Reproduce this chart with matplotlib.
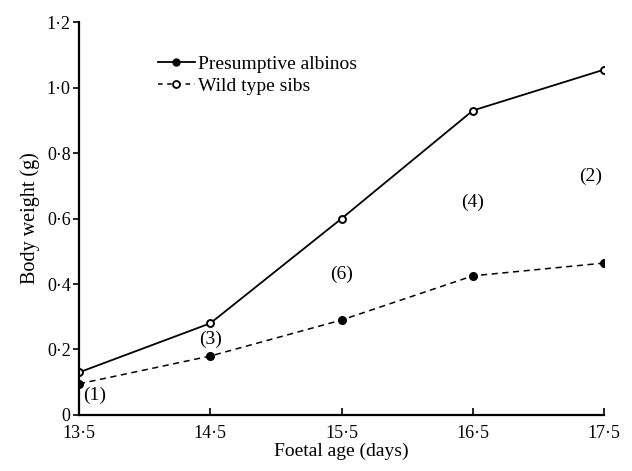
import matplotlib.pyplot as plt
from matplotlib.lines import Line2D

# foetal age (days)
ages = [13.5, 14.5, 15.5, 16.5, 17.5]
# open circles, solid line
wild_type = [0.13, 0.28, 0.60, 0.93, 1.055]
# filled circles, dashed line
albinos = [0.095, 0.18, 0.29, 0.425, 0.464]
# litter counts and where they sit
counts = ["(1)", "(3)", "(6)", "(4)", "(2)"]
count_x = [13.62, 14.5, 15.5, 16.5, 17.4]
count_y = [0.06, 0.23, 0.43, 0.65, 0.73]
tick_labels_x = ["13·5", "14·5", "15·5", "16·5", "17·5"]
yticks = [0, 0.2, 0.4, 0.6, 0.8, 1.0, 1.2]
tick_labels_y = ["0", "0·2", "0·4", "0·6", "0·8", "1·0", "1·2"]

plt.rcParams['font.family'] = ['Liberation Serif', 'DejaVu Serif']

fig = plt.figure(figsize=(6.32, 4.71), dpi=100)
ax = fig.add_axes([0.125, 0.119, 0.831, 0.834])

ax.plot(ages, wild_type, '-', color='black', lw=1.3, marker='o',
        ms=5, mfc='white', mec='black', mew=1.4)
ax.plot(ages, albinos, '--', color='black', lw=1.1, dashes=(4, 3), marker='o',
        ms=5.5, mfc='black', mec='black')

for t, x, y in zip(counts, count_x, count_y):
    ax.text(x, y, t, ha='center', va='center', fontsize=14)

ax.set_xlim(13.5, 17.5)
ax.set_ylim(0, 1.2)
ax.set_xticks(ages)
ax.set_xticklabels(tick_labels_x, fontsize=13)
ax.set_yticks(yticks)
ax.set_yticklabels(tick_labels_y, fontsize=13)
ax.tick_params(axis='x', direction='in', length=5, width=1.2, pad=7)
ax.tick_params(axis='y', direction='out', length=4, width=1.2, pad=2)
for s in ['top', 'right']:
    ax.spines[s].set_visible(False)
for s in ['left', 'bottom']:
    ax.spines[s].set_linewidth(1.6)

ax.set_xlabel("Foetal age (days)", fontsize=14, labelpad=1)
ax.set_ylabel("Body weight (g)", fontsize=14.5, labelpad=5)

handles = [
    Line2D([], [], color='black', lw=1.3, marker='o', ms=5, mfc='black'),
    Line2D([], [], color='black', lw=1.1, ls='--', dashes=(3, 3), marker='o',
           ms=5, mfc='white', mew=1.3),
]
ax.legend(handles, ["Presumptive albinos", "Wild type sibs"], loc='upper left',
          bbox_to_anchor=(0.135, 0.935), frameon=False, fontsize=14,
          handlelength=1.9, handletextpad=0.15, labelspacing=0.2,
          borderaxespad=0)

fig.savefig('out.png', dpi=100)
